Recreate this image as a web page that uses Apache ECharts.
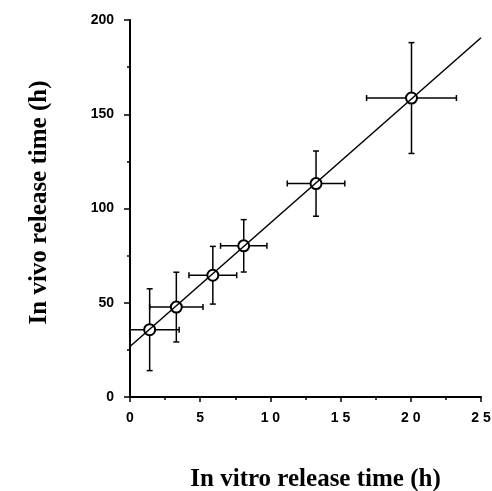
<!DOCTYPE html>
<html>
<head>
<meta charset="utf-8">
<script src="https://cdn.jsdelivr.net/npm/echarts@6/dist/echarts.min.js"></script>
<style>
html,body{margin:0;padding:0;background:#fff;}
#main{width:492px;height:491px;}
</style>
</head>
<body>
<div id="main"></div>
<script>
// in vitro (x) vs in vivo (y) release times, with SD bars
const vitroX = [1.4, 3.3, 5.9, 8.1, 13.25, 20.05];
const vivoY = [35.7, 47.7, 64.6, 80.2, 113.2, 158.6];
const xErr = [2.1, 1.9, 1.7, 1.65, 2.05, 3.2];
const yErr = [21.7, 18.5, 15.3, 13.9, 17.3, 29.4];
// regression line end points
const fitX = [0, 25];
const fitY = [26.8, 190.6];

let chart = echarts.init(document.getElementById('main'));

let errData = vitroX.map((x, i) => [x, vivoY[i], xErr[i], yErr[i]]);
let fitData = fitX.map((x, i) => [x, fitY[i]]);

function renderErr(params, api) {
  let x = api.value(0), y = api.value(1), ex = api.value(2), ey = api.value(3);
  let l = api.coord([x - ex, y]), r = api.coord([x + ex, y]);
  let t = api.coord([x, y + ey]), b = api.coord([x, y - ey]);
  let cap = 3;
  let st = { stroke: '#000', lineWidth: 1.5 };
  let seg = (x1, y1, x2, y2) => ({ type: 'line', shape: { x1, y1, x2, y2 }, style: st });
  return {
    type: 'group',
    children: [
      seg(l[0], l[1], r[0], r[1]),
      seg(l[0], l[1] - cap, l[0], l[1] + cap),
      seg(r[0], r[1] - cap, r[0], r[1] + cap),
      seg(t[0], t[1], b[0], b[1]),
      seg(t[0] - cap, t[1], t[0] + cap, t[1]),
      seg(b[0] - cap, b[1], b[0] + cap, b[1])
    ]
  };
}

let labelFont = { color: '#000', fontFamily: 'Liberation Sans, Arial', fontWeight: 'bold', fontSize: 14 };
let titleFont = { color: '#000', fontFamily: 'Liberation Serif, Times New Roman', fontWeight: 'bold', fontSize: 25 };

let option = {
  animation: false,
  grid: { left: 130, right: 11, top: 20, bottom: 94, outerBoundsMode: 'none' },
  xAxis: {
    type: 'value', min: 0, max: 25, interval: 5,
    axisLine: { lineStyle: { color: '#000', width: 2 } },
    axisTick: { length: 5, lineStyle: { color: '#000', width: 1.5 } },
    minorTick: { show: true, splitNumber: 2, length: 3, lineStyle: { color: '#000', width: 1.5 } },
    splitLine: { show: false },
    axisLabel: Object.assign({ margin: 14, formatter: v => String(v).split('').join(' ') }, labelFont),
    name: 'In vitro release time (h)', nameLocation: 'middle', nameGap: 70,
    nameTextStyle: Object.assign({ padding: [0, 0, 0, 20] }, titleFont)
  },
  yAxis: {
    type: 'value', min: 0, max: 200, interval: 50,
    axisLine: { lineStyle: { color: '#000', width: 2 } },
    axisTick: { length: 6, lineStyle: { color: '#000', width: 1.5 } },
    minorTick: { show: true, splitNumber: 2, length: 3, lineStyle: { color: '#000', width: 1.5 } },
    splitLine: { show: false },
    axisLabel: Object.assign({ margin: 16 }, labelFont),
    name: 'In vivo release time (h)', nameLocation: 'middle', nameGap: 78, nameRotate: 90,
    nameTextStyle: Object.assign({ padding: [0, 0, 0, 12] }, titleFont)
  },
  series: [
    {
      type: 'custom', renderItem: renderErr, data: errData, clip: true, z: 2
    },
    {
      type: 'scatter', data: vitroX.map((x, i) => [x, vivoY[i]]), symbol: 'circle', symbolSize: 11, z: 3,
      itemStyle: { color: '#fff', borderColor: '#000', borderWidth: 2, opacity: 1 }
    },
    {
      type: 'line', data: fitData, showSymbol: false, silent: true, z: 4,
      lineStyle: { color: '#000', width: 1.5 }
    }
  ]
};
chart.setOption(option);
window.addEventListener('resize', chart.resize);
</script>
</body>
</html>
